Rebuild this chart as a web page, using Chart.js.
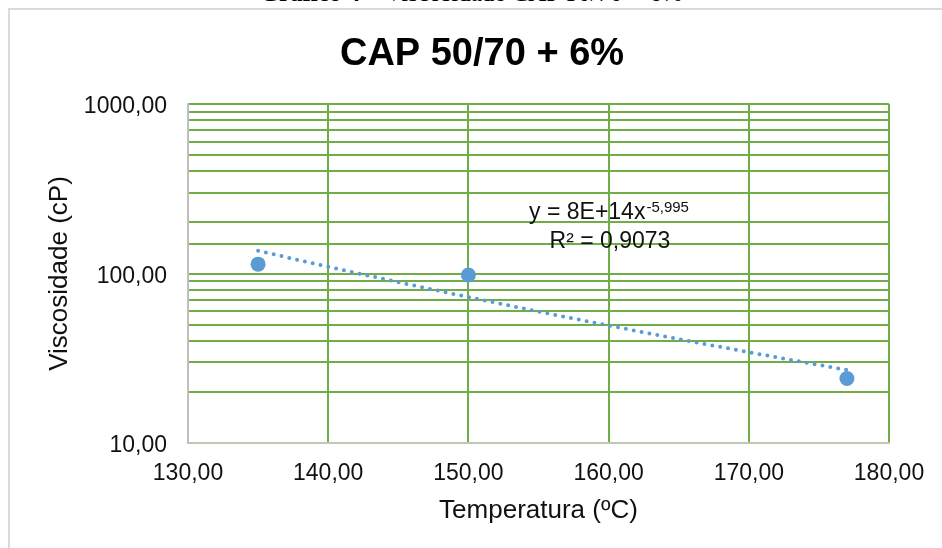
<!DOCTYPE html>
<html><head><meta charset="utf-8">
<script src="https://cdn.jsdelivr.net/npm/chart.js@4.4.1/dist/chart.umd.min.js"></script>
<style>
html,body{margin:0;padding:0;background:#fff;overflow:hidden;width:942px;height:548px;}
#frame{position:absolute;left:8px;top:8px;width:1200px;height:1000px;border-left:2px solid #DADADA;border-top:2px solid #DADADA;}
#cap{position:absolute;left:0;top:-18px;width:942px;text-align:center;font-family:"Liberation Serif","Times New Roman",serif;font-size:25px;line-height:22px;color:#000;white-space:nowrap;}
canvas{position:absolute;left:0;top:0;}
</style></head><body>
<div id="cap"><b>Gráfico 4</b> – Viscosidade CAP 50/70 + 6%</div>
<div id="frame"></div>
<canvas id="c" width="942" height="548"></canvas>
<script>
// ---- data ----
const temperatures = [135, 150, 177];          // ºC
const viscosities  = [113.5, 98, 24];          // cP
const xTickValues  = [130, 140, 150, 160, 170, 180];
const yLabelValues = [10, 100, 1000];
const chartTitle   = 'CAP 50/70 + 6%';
const xTitle       = 'Temperatura (ºC)';
const yTitle       = 'Viscosidade (cP)';
const eqMain       = 'y = 8E+14x';
const eqExp        = '-5,995';
const eqR2         = 'R² = 0,9073';

// power trendline (least squares in log-log space, as the spreadsheet does)
const lx = temperatures.map(Math.log), ly = viscosities.map(Math.log);
const n = lx.length;
const mx = lx.reduce((a,b)=>a+b,0)/n, my = ly.reduce((a,b)=>a+b,0)/n;
let sxy = 0, sxx = 0;
for (let i=0;i<n;i++){ sxy += (lx[i]-mx)*(ly[i]-my); sxx += (lx[i]-mx)**2; }
const B = sxy/sxx, A = Math.exp(my - B*mx);
const trend = [];
for (let x = temperatures[0]; x <= temperatures[n-1] + 1e-9; x += 0.5) trend.push({x, y: A*Math.pow(x,B)});

const fmt = v => Number(v).toFixed(2).replace('.', ',');
const FONT = '"Liberation Sans", Arial, sans-serif';
const BLUE = '#5B9BD5', GREEN = '#70AD47';

const textPlugin = {
  id: 'texts',
  afterDraw(chart) {
    const ctx = chart.ctx;
    ctx.save();
    // chart title
    ctx.fillStyle = '#000';
    ctx.font = 'bold 38px ' + FONT;
    ctx.textAlign = 'center';
    ctx.textBaseline = 'alphabetic';
    ctx.fillText(chartTitle, 482, 65);
    // trendline equation
    ctx.fillStyle = '#111';
    ctx.font = '23px ' + FONT;
    const wMain = ctx.measureText(eqMain).width;
    ctx.font = '15px ' + FONT;
    const wExp = ctx.measureText(eqExp).width;
    const cx = 609;
    const startX = cx - (wMain + wExp + 1)/2;
    ctx.font = '23px ' + FONT;
    ctx.textAlign = 'left';
    ctx.fillText(eqMain, startX, 219);
    ctx.font = '15px ' + FONT;
    ctx.fillText(eqExp, startX + wMain + 1, 212);
    ctx.font = '23px ' + FONT;
    ctx.textAlign = 'center';
    ctx.fillText(eqR2, 610, 247.5);
    ctx.restore();
  }
};

new Chart(document.getElementById('c'), {
  type: 'scatter',
  data: {
    datasets: [
      {
        label: 'Viscosidade',
        data: temperatures.map((t,i)=>({x:t, y:viscosities[i]})),
        backgroundColor: BLUE, borderColor: BLUE, borderWidth: 0,
        pointRadius: 7.5, pointHoverRadius: 7.5, order: 1
      },
      {
        label: 'Tendência',
        data: trend, showLine: true, pointRadius: 0,
        borderColor: BLUE, borderWidth: 4, borderDash: [0, 8],
        borderCapStyle: 'round', tension: 0, fill: false, order: 2
      }
    ]
  },
  options: {
    responsive: false, animation: false,
    layout: { padding: { left: 40, right: 53, top: 104, bottom: 18 } },
    plugins: {
      legend: { display: false }, tooltip: { enabled: false }, title: { display: false }
    },
    scales: {
      x: {
        type: 'linear', min: 130, max: 180,
        afterBuildTicks: s => { s.ticks = xTickValues.map(v=>({value:v})); },
        afterFit: s => { s.height = 87; },
        ticks: { callback: v => fmt(v), color: '#111', font: { family: FONT, size: 23 }, padding: 17, maxRotation: 0 },
        grid: { color: GREEN, lineWidth: 2, drawTicks: false },
        border: { color: '#BDC9B2', width: 2 },
        title: { display: true, text: xTitle, color: '#111', font: { family: FONT, size: 26 }, padding: { top: 4, bottom: 4 } }
      },
      y: {
        type: 'logarithmic', min: 10, max: 1000,
        afterFit: s => { s.width = 148; },
        ticks: {
          autoSkip: false, color: '#111', padding: 21, labelOffset: 3,
          font: { family: FONT, size: 23 },
          callback: v => yLabelValues.includes(v) ? fmt(v) : ''
        },
        grid: { color: GREEN, lineWidth: 2, drawTicks: false },
        border: { color: '#BFBFBF', width: 2 },
        title: { display: true, text: yTitle, color: '#111', font: { family: FONT, size: 26 }, padding: { top: 4, bottom: 4 } }
      }
    }
  },
  plugins: [textPlugin]
});
</script>
</body></html>
